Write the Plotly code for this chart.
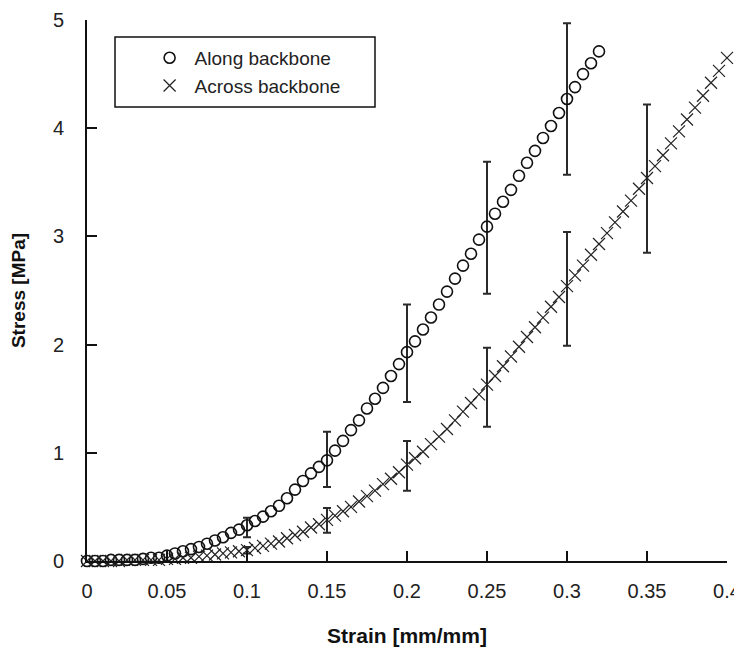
import plotly.graph_objects as go

# ---------------- data ----------------
along_strain = [round(0.005 * i, 3) for i in range(65)]
along_stress = [
    0.00, 0.00, 0.00, 0.01, 0.01, 0.01, 0.01, 0.02, 0.03, 0.03,
    0.05, 0.07, 0.09, 0.11, 0.13, 0.16, 0.19, 0.22, 0.26, 0.29,
    0.33, 0.37, 0.41, 0.46, 0.51, 0.58, 0.66, 0.74, 0.81, 0.87,
    0.93, 1.02, 1.11, 1.21, 1.30, 1.41, 1.50, 1.60, 1.71, 1.82,
    1.93, 2.03, 2.14, 2.25, 2.37, 2.49, 2.61, 2.73, 2.84, 2.97,
    3.09, 3.21, 3.32, 3.43, 3.56, 3.68, 3.79, 3.91, 4.02, 4.14,
    4.27, 4.38, 4.50, 4.60, 4.71,
]

across_strain = [round(0.005 * i, 3) for i in range(81)]
across_stress = [
    0.00, 0.00, 0.00, 0.00, 0.00, 0.01, 0.01, 0.01, 0.01, 0.01,
    0.02, 0.02, 0.03, 0.03, 0.04, 0.05, 0.06, 0.07, 0.08, 0.09,
    0.10, 0.12, 0.14, 0.16, 0.18, 0.21, 0.24, 0.27, 0.31, 0.34,
    0.38, 0.42, 0.46, 0.50, 0.55, 0.60, 0.65, 0.71, 0.76, 0.82,
    0.89, 0.95, 1.01, 1.08, 1.15, 1.22, 1.30, 1.38, 1.46, 1.54,
    1.63, 1.71, 1.80, 1.89, 1.98, 2.07, 2.16, 2.25, 2.35, 2.44,
    2.54, 2.64, 2.73, 2.83, 2.93, 3.03, 3.13, 3.23, 3.33, 3.44,
    3.54, 3.65, 3.75, 3.86, 3.97, 4.08, 4.19, 4.30, 4.42, 4.53,
    4.65,
]

along_err_strain = [0.10, 0.15, 0.20, 0.25, 0.30]
along_err_mean = [0.31, 0.94, 1.92, 3.08, 4.27]
along_err_sd = [0.09, 0.255, 0.45, 0.61, 0.70]

across_err_strain = [0.10, 0.15, 0.20, 0.25, 0.30, 0.35]
across_err_mean = [0.10, 0.375, 0.88, 1.605, 2.515, 3.535]
across_err_sd = [0.03, 0.115, 0.23, 0.365, 0.525, 0.685]

x_tick_vals = [0, 0.05, 0.1, 0.15, 0.2, 0.25, 0.3, 0.35, 0.4]
x_tick_text = ["0", "0.05", "0.1", "0.15", "0.2", "0.25", "0.3", "0.35", "0.4"]
y_tick_vals = [0, 1, 2, 3, 4, 5]

FONT = "Liberation Sans, Arial, sans-serif"

fig = go.Figure()

# error bars (drawn via invisible markers)
fig.add_trace(go.Scatter(
    x=along_err_strain, y=along_err_mean, mode="markers",
    marker=dict(size=1, color="rgba(0,0,0,0)"),
    error_y=dict(type="data", array=along_err_sd, visible=True,
                 color="#2a2a2a", thickness=2, width=4),
    showlegend=False, hoverinfo="skip", cliponaxis=False,
))
fig.add_trace(go.Scatter(
    x=across_err_strain, y=across_err_mean, mode="markers",
    marker=dict(size=1, color="rgba(0,0,0,0)"),
    error_y=dict(type="data", array=across_err_sd, visible=True,
                 color="#2a2a2a", thickness=2, width=4),
    showlegend=False, hoverinfo="skip", cliponaxis=False,
))

fig.add_trace(go.Scatter(
    x=along_strain, y=along_stress, mode="markers", name="Along backbone",
    marker=dict(symbol="circle-open", size=11, color="#111111",
                line=dict(width=1.6, color="#111111")),
    cliponaxis=False,
))
fig.add_trace(go.Scatter(
    x=across_strain, y=across_stress, mode="markers", name="Across backbone",
    marker=dict(symbol="x-thin-open", size=12, color="#222222",
                line=dict(width=1.2, color="#222222")),
    cliponaxis=False,
))

# legend frame
fig.add_shape(type="rect", xref="paper", yref="paper",
              x0=0.04375, x1=0.45, y0=0.839, y1=0.9686,
              line=dict(color="#111111", width=1.5), fillcolor="rgba(0,0,0,0)")

fig.update_layout(
    width=734, height=646, autosize=False,
    margin=dict(l=79, r=15, t=12, b=93),
    paper_bgcolor="white", plot_bgcolor="white",
    font=dict(family=FONT, color="#111111"),
    showlegend=True,
    legend=dict(x=0.09, y=0.965, xanchor="left", yanchor="top",
                bgcolor="rgba(0,0,0,0)", borderwidth=0,
                font=dict(size=19, family=FONT, color="#222222"),
                tracegroupgap=0, traceorder="normal", itemwidth=40),
    xaxis=dict(
        range=[0, 0.4], tickvals=x_tick_vals, ticktext=x_tick_text,
        showline=True, linecolor="#111111", linewidth=2,
        ticks="inside", ticklen=10, tickwidth=1.5, tickcolor="#111111",
        showgrid=False, zeroline=False, automargin=False,
        tickfont=dict(size=20, family=FONT, color="#222222"),
        ticklabelstandoff=11,
        title=dict(text="<b>Strain [mm/mm]</b>", standoff=27,
                   font=dict(size=21, family=FONT, color="#111111")),
    ),
    yaxis=dict(
        range=[0, 5], tickvals=y_tick_vals,
        showline=True, linecolor="#111111", linewidth=2,
        ticks="inside", ticklen=10, tickwidth=1.5, tickcolor="#111111",
        showgrid=False, zeroline=False, automargin=False,
        tickfont=dict(size=20, family=FONT, color="#222222"),
        ticklabelstandoff=17,
        title=dict(text="<b>Stress [MPa]</b>", standoff=26,
                   font=dict(size=19, family=FONT, color="#111111")),
    ),
)

fig.write_html("out.html")
